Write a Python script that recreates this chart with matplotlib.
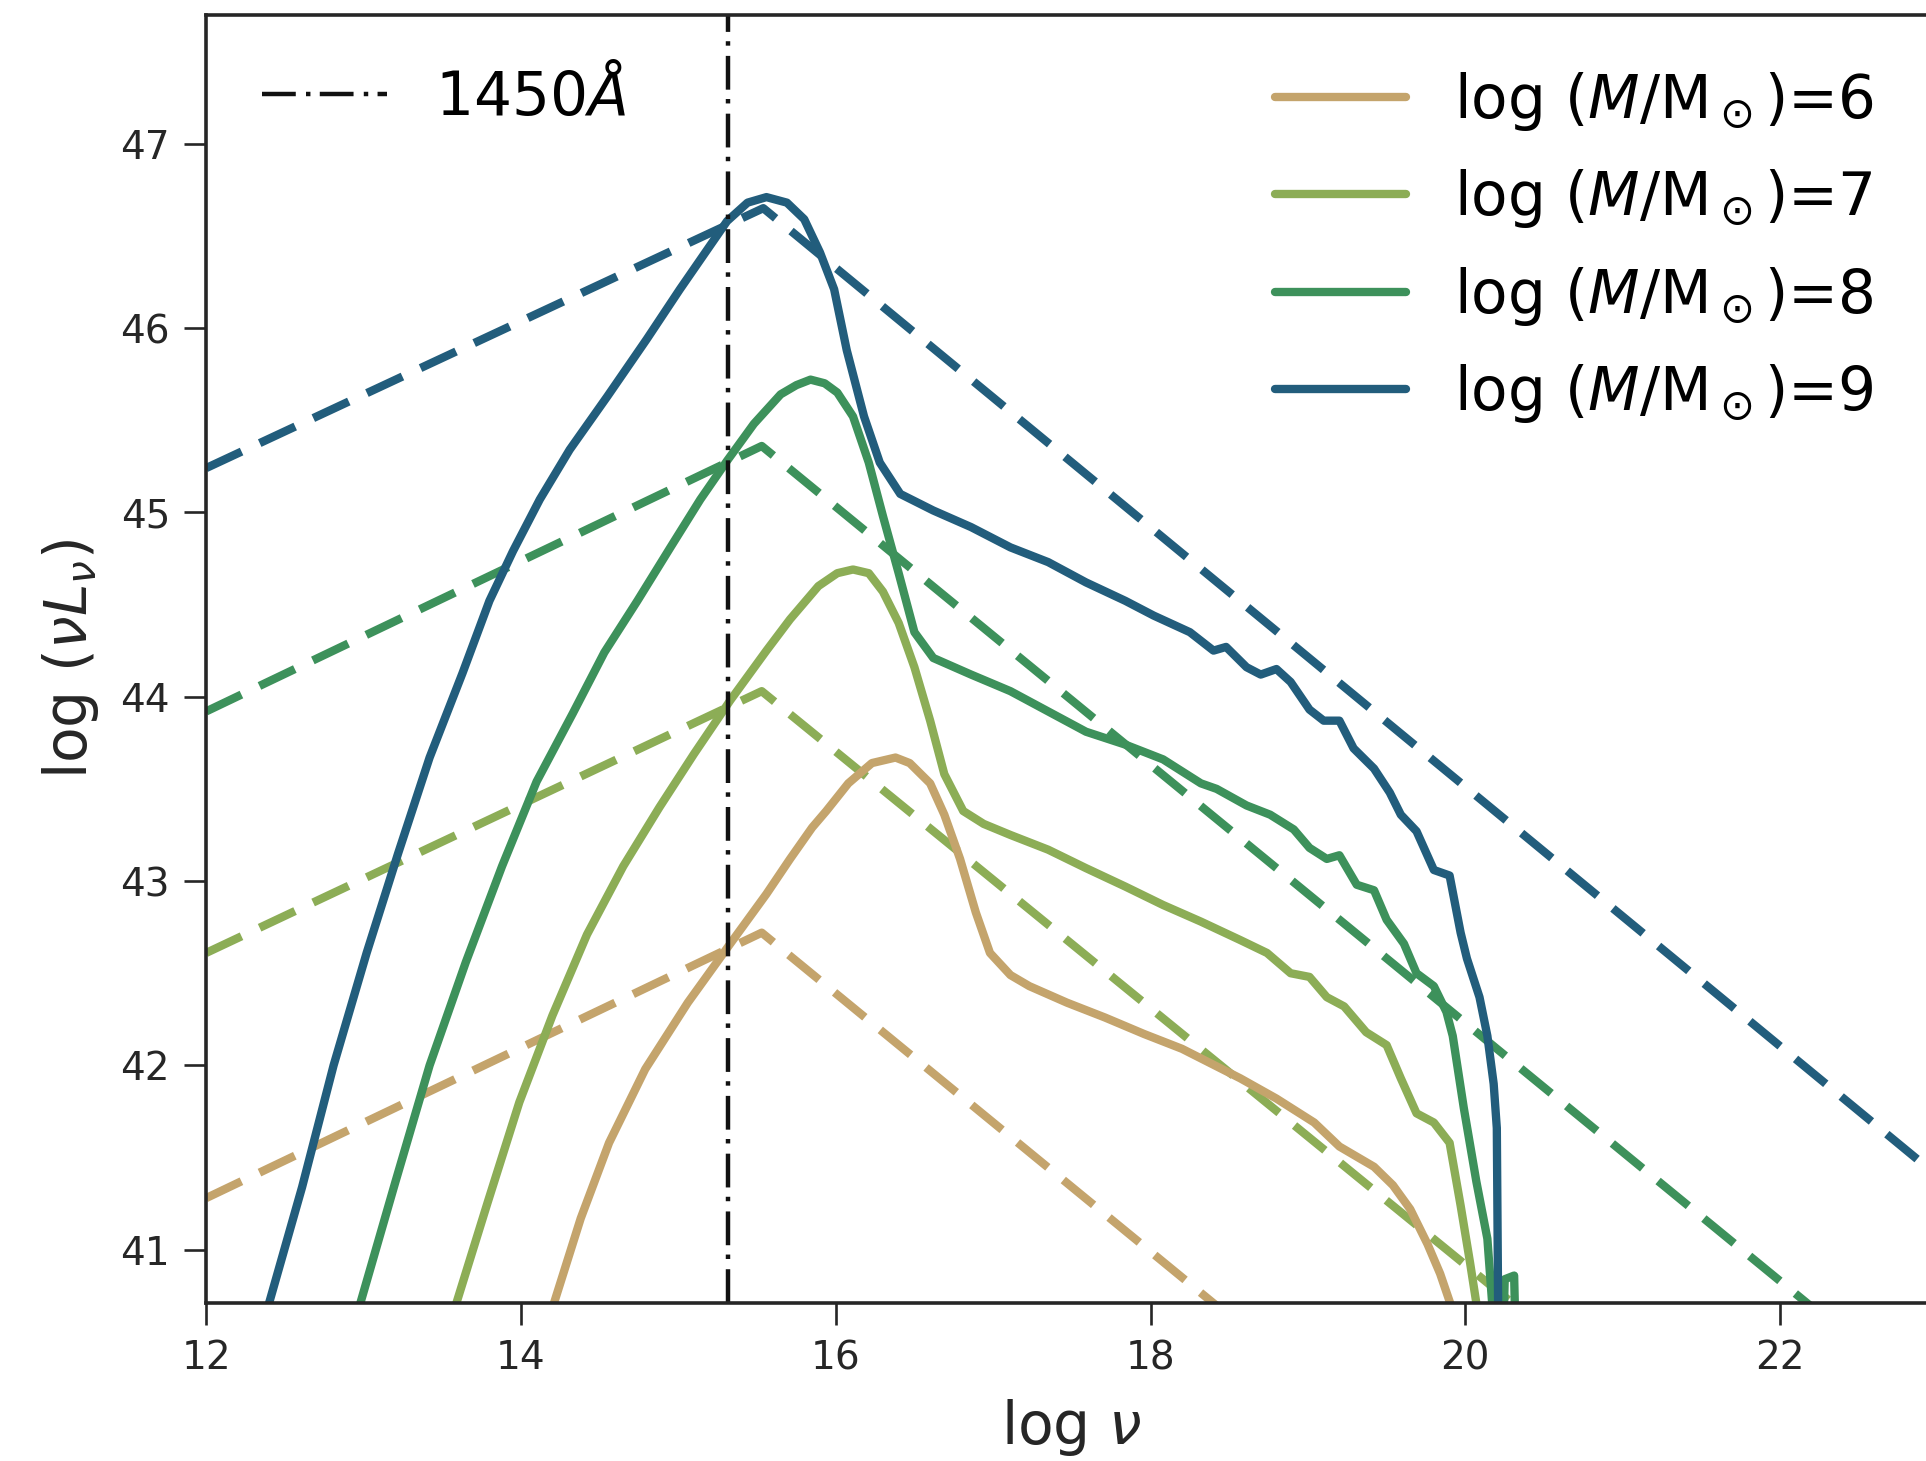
import matplotlib
matplotlib.use('Agg')
import matplotlib.pyplot as plt
from matplotlib.lines import Line2D

plt.rcParams['font.family'] = ['DejaVu Sans']
plt.rcParams['mathtext.fontset'] = 'dejavusans'

# colours for log(M/Msun) = 6, 7, 8, 9
masses = [6, 7, 8, 9]
colors = ['#c4a46c', '#8cad56', '#3d915b', '#225d7c']

# solid SEDs, x = log nu, y = log(nu L_nu)
sed_x = {
    6: [14.19, 14.21, 14.38, 14.56, 14.79, 15.06, 15.33, 15.56, 15.71, 15.85, 15.94, 16.08, 16.23,
        16.38, 16.47, 16.60, 16.69, 16.79, 16.89, 16.98, 17.11, 17.23, 17.47, 17.71, 17.96, 18.20,
        18.57, 18.80, 19.04, 19.20, 19.42, 19.54, 19.65, 19.76, 19.84, 19.92, 19.95],
    7: [13.57, 13.59, 13.79, 13.99, 14.20, 14.42, 14.65, 14.88, 15.10, 15.33, 15.56, 15.71, 15.80,
        15.89, 16.01, 16.11, 16.21, 16.30, 16.40, 16.50, 16.60, 16.69, 16.81, 16.94, 17.11, 17.35,
        17.59, 17.84, 18.08, 18.32, 18.57, 18.74, 18.89, 19.01, 19.12, 19.23, 19.37, 19.50, 19.59,
        19.69, 19.80, 19.90, 19.97, 20.03, 20.09],
    8: [12.96, 12.98, 13.20, 13.42, 13.65, 13.88, 14.10, 14.33, 14.53, 14.74, 14.95, 15.14, 15.31,
        15.48, 15.65, 15.75, 15.84, 15.93, 16.01, 16.11, 16.21, 16.30, 16.40, 16.50, 16.62, 16.86,
        17.11, 17.35, 17.59, 17.84, 18.08, 18.32, 18.42, 18.61, 18.76, 18.91, 19.01, 19.12, 19.20,
        19.31, 19.42, 19.50, 19.61, 19.69, 19.80, 19.88, 19.92, 19.99, 20.07, 20.14, 20.18, 20.24,
        20.25, 20.31, 20.32],
    9: [12.36, 12.40, 12.61, 12.81, 13.02, 13.22, 13.42, 13.63, 13.80, 13.95, 14.12, 14.31, 14.55,
        14.80, 15.01, 15.18, 15.31, 15.44, 15.56, 15.69, 15.80, 15.90, 15.99, 16.07, 16.18, 16.28,
        16.41, 16.62, 16.86, 17.11, 17.35, 17.59, 17.84, 18.02, 18.25, 18.40, 18.48, 18.61, 18.70,
        18.80, 18.89, 19.01, 19.10, 19.20, 19.29, 19.42, 19.52, 19.59, 19.69, 19.80, 19.90, 19.97,
        20.01, 20.09, 20.14, 20.18, 20.20, 20.21],
}
sed_y = {
    6: [40.60, 40.71, 41.17, 41.58, 41.98, 42.34, 42.66, 42.93, 43.12, 43.29, 43.38, 43.53, 43.64,
        43.67, 43.64, 43.53, 43.36, 43.12, 42.83, 42.61, 42.49, 42.43, 42.34, 42.26, 42.17, 42.09,
        41.93, 41.82, 41.69, 41.56, 41.45, 41.35, 41.22, 41.03, 40.87, 40.67, 40.60],
    7: [40.60, 40.71, 41.26, 41.80, 42.27, 42.71, 43.08, 43.40, 43.69, 43.98, 44.25, 44.42, 44.51,
        44.60, 44.67, 44.69, 44.67, 44.57, 44.40, 44.16, 43.87, 43.58, 43.38, 43.31, 43.25, 43.17,
        43.07, 42.97, 42.87, 42.78, 42.68, 42.61, 42.50, 42.48, 42.37, 42.32, 42.18, 42.11, 41.93,
        41.74, 41.69, 41.58, 41.24, 40.93, 40.60],
    8: [40.60, 40.71, 41.36, 42.00, 42.56, 43.08, 43.54, 43.91, 44.24, 44.52, 44.81, 45.07, 45.28,
        45.48, 45.64, 45.69, 45.72, 45.70, 45.65, 45.52, 45.27, 44.98, 44.67, 44.35, 44.21, 44.12,
        44.03, 43.92, 43.81, 43.74, 43.66, 43.53, 43.50, 43.41, 43.36, 43.28, 43.18, 43.12, 43.14,
        42.98, 42.95, 42.79, 42.66, 42.50, 42.43, 42.29, 42.16, 41.77, 41.37, 41.06, 40.60, 40.50,
        40.84, 40.86, 40.50],
    9: [40.60, 40.71, 41.34, 42.00, 42.61, 43.15, 43.67, 44.13, 44.52, 44.79, 45.07, 45.34, 45.63,
        45.94, 46.21, 46.42, 46.58, 46.68, 46.71, 46.68, 46.59, 46.41, 46.21, 45.88, 45.52, 45.27,
        45.10, 45.01, 44.92, 44.81, 44.73, 44.62, 44.52, 44.44, 44.35, 44.25, 44.27, 44.16, 44.12,
        44.15, 44.08, 43.93, 43.87, 43.87, 43.72, 43.61, 43.48, 43.36, 43.27, 43.06, 43.03, 42.72,
        42.58, 42.37, 42.16, 41.90, 41.66, 40.50],
}

# dashed broken power laws: start, break, end
pl_x = {6: [12.0, 15.53, 18.50], 7: [12.0, 15.53, 20.40], 8: [12.0, 15.53, 22.30], 9: [12.0, 15.54, 23.10]}
pl_y = {6: [41.28, 42.72, 40.64], 7: [42.61, 44.03, 40.64], 8: [43.92, 45.36, 40.62], 9: [45.24, 46.65, 41.33]}

lognu_1450 = 15.316

fig = plt.figure(figsize=(19.26, 14.61), dpi=100)
ax = fig.add_axes([0.107, 0.108, 0.899, 0.882])

for m, c in zip(masses, colors):
    ax.plot(pl_x[m], pl_y[m], color=c, lw=6.0, dashes=(4.7, 2.4), solid_capstyle='butt')
for m, c in zip(masses, colors):
    ax.plot(sed_x[m], sed_y[m], color=c, lw=6.0, solid_joinstyle='round')

dd = (7.6, 2.3, 1.0, 2.1)
ax.axvline(lognu_1450, color='#111111', lw=3.2, dashes=dd)

ax.set_xlim(12, 23)
ax.set_ylim(40.71, 47.70)
ax.set_xticks([12, 14, 16, 18, 20, 22])
ax.set_yticks([41, 42, 43, 44, 45, 46, 47])
ax.tick_params(axis='both', direction='out', length=16, width=1.9, colors='#262626',
               labelsize=28, pad=10)
for s in ax.spines.values():
    s.set_linewidth(2.6)
    s.set_color('#262626')

ax.set_xlabel(r'$\log\,\nu$', fontsize=42, color='#262626', labelpad=14)
ax.set_ylabel(r'$\log\,(\nu L_\nu)$', fontsize=42, color='#262626', labelpad=14)

h1 = [Line2D([], [], color='#111111', lw=3.2, dashes=dd)]
leg1 = ax.legend(h1, [r'$1450\AA$'], loc='upper left', bbox_to_anchor=(262 / 1926, 1 - 67 / 1461),
                 bbox_transform=fig.transFigure, frameon=False, fontsize=43,
                 handlelength=2.1, handletextpad=0.8, borderpad=0, borderaxespad=0)
ax.add_artist(leg1)

h2 = [Line2D([], [], color=c, lw=6.0, solid_capstyle='round') for c in colors]
labels = [r'$\log\,(M/\mathrm{M}_\odot)$=%d' % m for m in masses]
ax.legend(h2, labels, loc='upper left', bbox_to_anchor=(1275 / 1926, 1 - 70 / 1461),
          bbox_transform=fig.transFigure, frameon=False, fontsize=43,
          handlelength=2.2, handletextpad=0.8, labelspacing=0.575, borderpad=0, borderaxespad=0)

fig.savefig('out.png', dpi=100)
